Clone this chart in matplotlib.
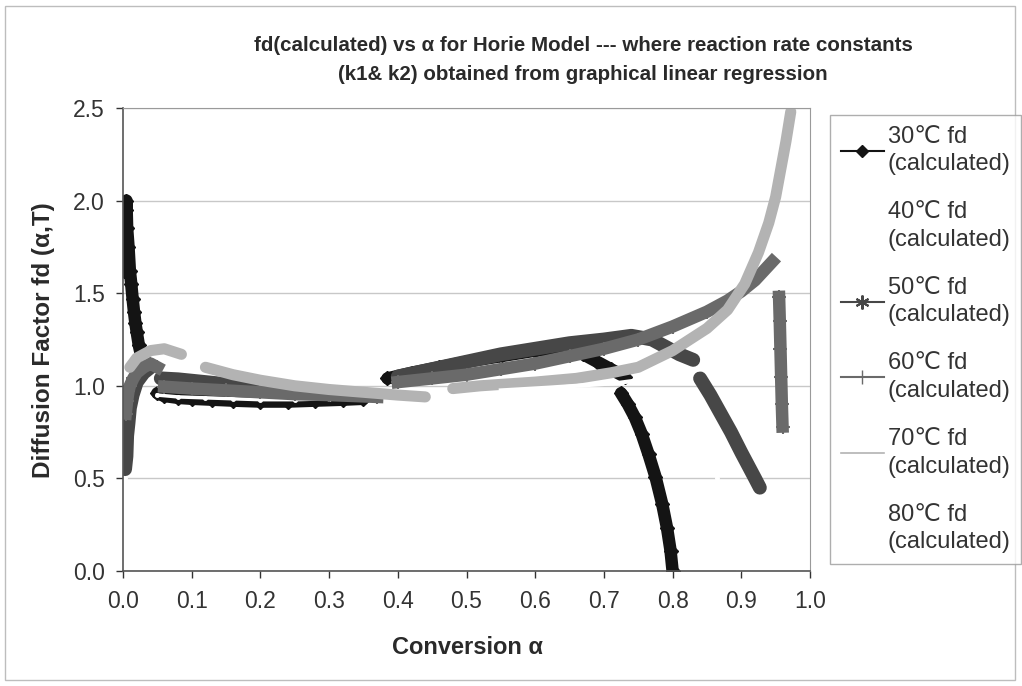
import numpy as np
import matplotlib

matplotlib.use("Agg")
import matplotlib.pyplot as plt
from matplotlib.lines import Line2D
from matplotlib.patches import Rectangle

plt.rcParams["font.family"] = ["Liberation Sans", "DejaVu Sans"]

nan = np.nan

# conversion alpha / fd values, nan = gap between pieces
a30 = [0.002, 0.004, 0.005, 0.006, 0.008, 0.010, 0.012, 0.014, 0.016, 0.018, 0.020, 0.023, 0.026,
       nan, 0.050, 0.060, 0.080, 0.100, 0.130, 0.160, 0.200, 0.240, 0.280, 0.320, 0.350,
       nan, 0.385, 0.420, 0.460, 0.500, 0.550, 0.600, 0.640, 0.670, 0.690, 0.710, 0.730,
       nan, 0.725, 0.735, 0.745, 0.755, 0.765, 0.775, 0.785, 0.792, 0.797, 0.800]
fd30 = [1.62, 1.95, 2.00, 1.85, 1.75, 1.62, 1.55, 1.47, 1.40, 1.34, 1.29, 1.22, 1.17,
        nan, 0.960, 0.945, 0.935, 0.930, 0.925, 0.920, 0.915, 0.915, 0.920, 0.925, 0.930,
        nan, 1.040, 1.07, 1.10, 1.13, 1.16, 1.19, 1.20, 1.17, 1.13, 1.09, 1.05,
        nan, 0.96, 0.90, 0.83, 0.74, 0.63, 0.51, 0.36, 0.23, 0.11, 0.0]

a40 = [0.001, 0.002, 0.003, nan, 0.050, 0.080, 0.120, 0.160, 0.200, 0.250, 0.300, 0.350,
       nan, 0.835, 0.850, 0.865, 0.880, 0.890, 0.895]
fd40 = [0.30, 0.40, 0.50, nan, 0.950, 0.940, 0.935, 0.930, 0.925, 0.925, 0.930, 0.935,
        nan, 1.10, 0.80, 0.50, 0.20, 0.06, 0.0]

a50 = [0.003, 0.005, 0.006, 0.008, 0.010, 0.014, 0.020, 0.030, 0.040,
       nan, 0.055, 0.080, 0.120, 0.160, 0.200, 0.250, 0.300, 0.350,
       nan, 0.400, 0.450, 0.500, 0.550, 0.600, 0.650, 0.700, 0.740, 0.770, 0.790, 0.810, 0.830,
       nan, 0.840, 0.855, 0.870, 0.885, 0.900, 0.910, 0.920, 0.927]
fd50 = [0.55, 0.62, 0.73, 0.80, 0.88, 0.95, 1.02, 1.07, 1.10,
        nan, 1.040, 1.035, 1.020, 1.005, 0.990, 0.975, 0.965, 0.950,
        nan, 1.05, 1.09, 1.13, 1.17, 1.20, 1.23, 1.25, 1.27, 1.25, 1.21, 1.17, 1.14,
        nan, 1.04, 0.95, 0.85, 0.75, 0.64, 0.57, 0.50, 0.45]

a60 = [0.004, 0.006, 0.008, 0.010, 0.015, 0.020, 0.030, 0.040, 0.050,
       nan, 0.060, 0.100, 0.150, 0.200, 0.250, 0.300, 0.370,
       nan, 0.400, 0.450, 0.500, 0.550, 0.600, 0.650, 0.700, 0.750, 0.800, 0.850, 0.880,
       0.900, 0.920, 0.935, 0.945,
       nan, 0.955, 0.956, 0.957, 0.958, 0.959, 0.960]
fd60 = [0.85, 0.92, 0.97, 1.00, 1.04, 1.07, 1.10, 1.12, 1.10,
        nan, 0.995, 0.985, 0.975, 0.965, 0.955, 0.950, 0.940,
        nan, 1.02, 1.04, 1.06, 1.09, 1.12, 1.16, 1.20, 1.25, 1.32, 1.40, 1.46,
        1.51, 1.57, 1.63, 1.67,
        nan, 1.48, 1.35, 1.20, 1.05, 0.90, 0.78]

a70 = [0.010, 0.020, 0.040, 0.060, 0.085,
       nan, 0.120, 0.160, 0.200, 0.250, 0.300, 0.350, 0.400, 0.440,
       nan, 0.480, 0.520, 0.600, 0.660, 0.710, 0.750, 0.800, 0.850, 0.880, 0.905,
       0.925, 0.940, 0.950, 0.958, 0.965, 0.972]
fd70 = [1.10, 1.15, 1.19, 1.20, 1.17,
        nan, 1.10, 1.06, 1.03, 1.00, 0.980, 0.965, 0.950, 0.940,
        nan, 0.985, 1.00, 1.02, 1.04, 1.07, 1.10, 1.19, 1.31, 1.41, 1.55,
        1.72, 1.88, 2.02, 2.18, 2.32, 2.48]

a80 = [0.550, 0.620, 0.680, 0.720, 0.760, 0.800, 0.840]
fd80 = [0.975, 0.990, 1.005, 1.015, 1.035, 1.070, 1.090]

labels = ["30\u2103 fd\n(calculated)", "40\u2103 fd\n(calculated)", "50\u2103 fd\n(calculated)",
          "60\u2103 fd\n(calculated)", "70\u2103 fd\n(calculated)", "80\u2103 fd\n(calculated)"]

fig = plt.figure(figsize=(10.22, 6.86), dpi=100)
fig.patches.append(Rectangle((5 / 1022, 6 / 686), 1010 / 1022, 674 / 686, transform=fig.transFigure,
                             fill=False, edgecolor="#bdbdbd", lw=1))
ax = fig.add_axes([123 / 1022, 1 - 571 / 686, 687 / 1022, 463 / 686])

ax.plot(a30, fd30, color="#141414", lw=9, marker="D", ms=7, solid_capstyle="round")
ax.plot(a40, fd40, color="white", lw=2.5, marker="o", ms=2.5, clip_on=False)
ax.plot(a50, fd50, color="#474747", lw=10, marker="*", ms=8, solid_capstyle="round")
ax.plot(a60, fd60, color="#6a6a6a", lw=9, marker="+", ms=10, mew=1.5)
ax.plot(a70, fd70, color="#b3b3b3", lw=8, solid_capstyle="round")
ax.plot(a80, fd80, color="white", lw=3)

ax.set_xlim(0, 1.0)
ax.set_ylim(0, 2.5)
ax.set_xticks(np.arange(0, 1.01, 0.1))
ax.set_yticks(np.arange(0, 2.51, 0.5))
ax.set_xticklabels([f"{v:.1f}" for v in np.arange(0, 1.01, 0.1)])
ax.set_yticklabels([f"{v:.1f}" for v in np.arange(0, 2.51, 0.5)])
ax.tick_params(axis="both", labelsize=16.5, colors="#333333", length=5, width=1, direction="out")
ax.tick_params(axis="x", pad=9)
ax.tick_params(axis="y", pad=8)
ax.yaxis.grid(True, color="#c8c8c8", lw=1)
ax.set_axisbelow(True)
for side in ["top", "right"]:
    ax.spines[side].set_color("#9a9a9a")
for side in ["left", "bottom"]:
    ax.spines[side].set_color("#555555")
    ax.spines[side].set_linewidth(1.2)

fig.text(583 / 1022, 1 - 60 / 686,
         "fd(calculated) vs \u03b1 for Horie Model --- where reaction rate constants\n"
         "(k1& k2) obtained from graphical linear regression",
         ha="center", va="center", fontsize=14.8, fontweight="bold", color="#2a2a2a", linespacing=1.7)
fig.text(467 / 1022, 1 - 647 / 686, "Conversion \u03b1", ha="center", va="center",
         fontsize=17, fontweight="bold", color="#2a2a2a")
fig.text(44 / 1022, 1 - 340 / 686, "Diffusion Factor fd (\u03b1,T)", ha="center", va="center",
         rotation=90, fontsize=17.5, fontweight="bold", color="#2a2a2a")

handles = [
    Line2D([], [], color="#141414", lw=1.5, marker="D", ms=6),
    Line2D([], [], color="white", lw=1.5),
    Line2D([], [], color="#474747", lw=1.5, marker=(6, 2, 0), ms=10, mew=1.5),
    Line2D([], [], color="#6a6a6a", lw=1.5, marker="|", ms=10, mew=1),
    Line2D([], [], color="#b3b3b3", lw=1.2),
    Line2D([], [], color="white", lw=1.5),
]
leg = fig.legend(handles, labels, loc="upper left", bbox_to_anchor=(830 / 1022, 1 - 115 / 686),
                 fontsize=17, frameon=True, fancybox=False, edgecolor="#9a9a9a",
                 handlelength=1.85, handletextpad=0.15, labelspacing=1.1, borderpad=0.45,
                 borderaxespad=0)
leg.get_frame().set_linewidth(1)
for t in leg.get_texts():
    t.set_color("#333333")
    t.set_linespacing(1.33)

fig.savefig("out.png", dpi=100)
